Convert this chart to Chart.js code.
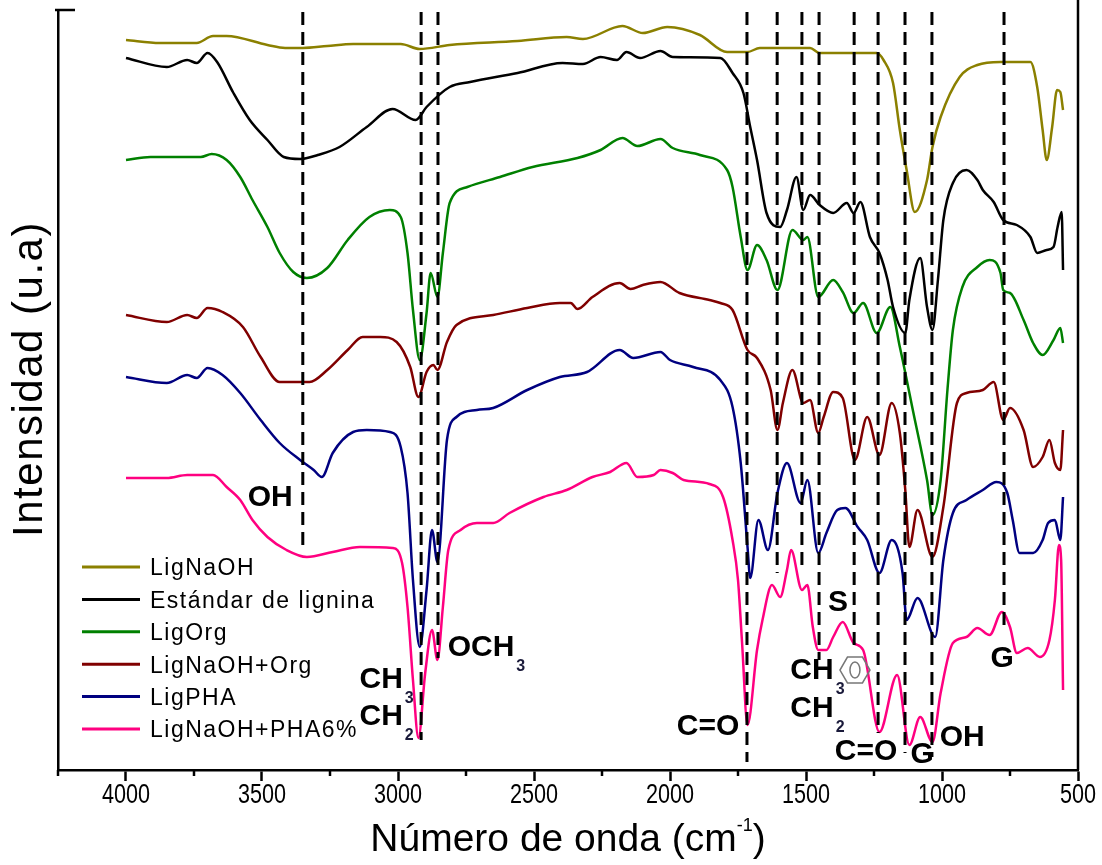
<!DOCTYPE html>
<html>
<head>
<meta charset="utf-8">
<script src="https://cdn.jsdelivr.net/npm/chart.js@4.4.1/dist/chart.umd.min.js"></script>
<style>
  html, body { margin: 0; padding: 0; background: #fff; }
  #wrap { width: 1102px; height: 865px; }
</style>
</head>
<body>
<div id="wrap"><canvas id="ftirChart" width="1102" height="865"></canvas></div>
<script>
// Spectra: wavenumber (cm-1) and intensity (u.a.)
const ligNaOHWn = [4000, 3875, 3740, 3680, 3630, 3480, 3415, 3350, 3260, 3165, 2990, 2920, 2810, 2560, 2380, 2320, 2175, 2100, 2010, 1890, 1790, 1715, 1670, 1485, 1450, 1240, 1215, 1180, 1155, 1130, 1100, 1055, 1035, 1005, 935, 870, 785, 675, 650, 630, 615, 595, 577, 565, 555];
const ligNaOHInt = [730, 727, 727, 734, 734, 725, 722, 722, 724, 726, 726, 721, 725, 729, 733, 731, 744, 737, 743, 735, 718, 718, 722, 722, 717, 717, 710, 687, 640, 600, 558, 590, 623, 653, 693, 705, 708, 708, 683, 640, 610, 643, 680, 678, 660];

const standardWn = [4000, 3850, 3775, 3740, 3700, 3665, 3605, 3545, 3480, 3420, 3360, 3295, 3215, 3115, 3020, 2935, 2895, 2810, 2735, 2560, 2395, 2320, 2255, 2195, 2160, 2110, 2035, 1990, 1815, 1770, 1730, 1705, 1680, 1645, 1595, 1570, 1535, 1510, 1485, 1450, 1400, 1350, 1325, 1300, 1265, 1230, 1200, 1180, 1135, 1120, 1080, 1055, 1035, 1015, 995, 960, 910, 870, 850, 810, 775, 725, 675, 650, 615, 590, 575, 560, 555];
const standardInt = [712, 703, 710, 707, 717, 708, 677, 650, 630, 613, 611, 615, 623, 643, 661, 650, 663, 683, 688, 697, 707, 706, 713, 710, 718, 712, 719, 713, 712, 697, 677, 643, 610, 557, 543, 560, 593, 560, 575, 565, 557, 567, 557, 568, 533, 517, 490, 463, 437, 470, 512, 463, 440, 490, 550, 587, 600, 590, 580, 568, 550, 545, 533, 517, 520, 523, 543, 558, 500];

const ligOrgWn = [4000, 3910, 3725, 3685, 3630, 3580, 3535, 3480, 3435, 3385, 3335, 3260, 3185, 3105, 3030, 2990, 2965, 2945, 2920, 2895, 2880, 2855, 2835, 2810, 2745, 2625, 2505, 2340, 2255, 2175, 2120, 2035, 1990, 1890, 1790, 1770, 1740, 1715, 1680, 1645, 1605, 1550, 1510, 1495, 1455, 1400, 1365, 1325, 1290, 1240, 1190, 1155, 1105, 1055, 1035, 1005, 980, 960, 925, 870, 825, 785, 775, 750, 700, 665, 630, 590, 565, 555];
const ligOrgInt = [610, 613, 613, 616, 610, 593, 570, 543, 517, 498, 492, 502, 530, 553, 560, 553, 517, 460, 410, 457, 497, 473, 517, 567, 583, 593, 603, 612, 620, 632, 624, 631, 622, 615, 600, 583, 533, 500, 525, 510, 480, 540, 530, 533, 473, 490, 478, 457, 467, 437, 463, 423, 357, 290, 255, 290, 380, 440, 483, 503, 510, 497, 480, 477, 450, 427, 415, 430, 442, 427];

const naOHOrgWn = [4000, 3850, 3775, 3740, 3700, 3645, 3570, 3505, 3435, 3325, 3260, 3185, 3130, 3065, 3005, 2955, 2925, 2895, 2870, 2855, 2820, 2785, 2650, 2525, 2405, 2365, 2340, 2285, 2185, 2145, 2100, 2035, 1965, 1855, 1815, 1770, 1715, 1680, 1630, 1605, 1585, 1550, 1510, 1485, 1455, 1435, 1400, 1365, 1320, 1275, 1230, 1185, 1155, 1135, 1120, 1090, 1035, 995, 945, 910, 850, 810, 775, 750, 700, 665, 630, 605, 585, 565, 555];
const naOHOrgInt = [455, 448, 455, 452, 462, 458, 443, 413, 388, 388, 400, 420, 433, 433, 428, 403, 373, 398, 405, 400, 428, 445, 455, 462, 467, 467, 461, 473, 487, 481, 485, 488, 477, 470, 467, 460, 420, 412, 380, 340, 367, 400, 367, 370, 337, 353, 378, 372, 310, 353, 315, 367, 337, 280, 223, 260, 213, 263, 367, 377, 380, 388, 350, 362, 340, 303, 313, 330, 307, 300, 340];

const ligPHAWn = [4000, 3850, 3775, 3740, 3700, 3645, 3580, 3505, 3435, 3360, 3310, 3280, 3240, 3165, 3115, 3030, 2990, 2965, 2945, 2920, 2895, 2875, 2855, 2820, 2785, 2710, 2650, 2525, 2405, 2305, 2185, 2135, 2035, 2000, 1915, 1815, 1770, 1740, 1715, 1705, 1675, 1640, 1605, 1570, 1520, 1495, 1455, 1425, 1385, 1355, 1310, 1275, 1230, 1185, 1145, 1130, 1090, 1025, 995, 960, 910, 850, 800, 760, 740, 715, 665, 630, 610, 585, 565, 555];
const ligPHAInt = [393, 387, 395, 392, 402, 395, 377, 350, 327, 310, 300, 293, 317, 338, 340, 338, 323, 277, 190, 123, 180, 240, 208, 330, 353, 360, 362, 380, 393, 398, 420, 412, 418, 410, 403, 390, 363, 307, 223, 192, 250, 220, 277, 307, 267, 290, 217, 237, 260, 262, 243, 230, 197, 230, 197, 150, 172, 133, 210, 257, 270, 280, 288, 277, 250, 217, 217, 230, 247, 250, 230, 273];

const naOHPHAWn = [4000, 3850, 3775, 3680, 3630, 3580, 3535, 3480, 3410, 3335, 3240, 3140, 3020, 2985, 2965, 2945, 2925, 2900, 2875, 2855, 2835, 2815, 2770, 2710, 2650, 2590, 2465, 2380, 2285, 2220, 2160, 2120, 2060, 2035, 1990, 1950, 1855, 1805, 1770, 1750, 1735, 1715, 1680, 1660, 1625, 1595, 1570, 1555, 1515, 1495, 1475, 1455, 1425, 1400, 1365, 1325, 1290, 1230, 1165, 1120, 1080, 1035, 1005, 960, 910, 870, 825, 780, 750, 725, 685, 640, 605, 585, 570, 562, 555];
const naOHPHAInt = [292, 292, 295, 295, 283, 270, 250, 233, 220, 213, 218, 223, 222, 207, 163, 90, 32, 97, 140, 110, 163, 220, 240, 247, 247, 257, 273, 280, 293, 298, 307, 293, 295, 300, 297, 290, 286, 273, 230, 190, 127, 45, 120, 150, 185, 173, 200, 220, 180, 185, 143, 120, 120, 133, 148, 127, 120, 38, 95, 25, 53, 28, 77, 127, 133, 142, 135, 158, 143, 117, 122, 113, 130, 170, 225, 210, 80];

const seriesLabels = ['LigNaOH', 'Estándar de lignina', 'LigOrg', 'LigNaOH+Org', 'LigPHA', 'LigNaOH+PHA6%'];
const seriesColors = ['#8b8000', '#000000', '#008000', '#800000', '#000080', '#ff0080'];

// x axis ticks
const xTickValues = [500, 1000, 1500, 2000, 2500, 3000, 3500, 4000];
const xMinorTicks = [750, 1250, 1750, 2250, 2750, 3250, 3750, 4250];

// assigned bands (dashed lines): wavenumber and where each line stops
const bandWn = [3350, 2915, 2853, 1717, 1606, 1515, 1452, 1323, 1235, 1136, 1037, 772];
const bandEnd = [222, 30, 112, 8, 197, 200, 110, 120, 37, 17, 13, 140];
const bandTop = 758;

// band labels, placed in data coordinates
const annotations = [
    { text: 'OH', sub: '', wn: 3470, y: 272 },
    { text: 'CH', sub: '3', wn: 3062, y: 90 },
    { text: 'CH', sub: '2', wn: 3062, y: 53 },
    { text: 'OCH', sub: '3', wn: 2695, y: 122 },
    { text: 'C=O', sub: '', wn: 1860, y: 43 },
    { text: 'S', sub: '', wn: 1382, y: 167 },
    { text: 'CH', sub: '3', wn: 1478, y: 99 },
    { text: 'CH', sub: '2', wn: 1478, y: 61 },
    { text: 'C=O', sub: '', wn: 1279, y: 18 },
    { text: 'G', sub: '', wn: 1073, y: 15 },
    { text: 'OH', sub: '', wn: 926, y: 32 },
    { text: 'G', sub: '', wn: 779, y: 111 }
];
const ringMark = { wn: 1320, y: 100 };

const FONT = '"Liberation Sans", Arial, sans-serif';

function toPoints(xs, ys) {
    return xs.map((v, i) => ({ x: v, y: ys[i] }));
}

const allWn = [ligNaOHWn, standardWn, ligOrgWn, naOHOrgWn, ligPHAWn, naOHPHAWn];
const allInt = [ligNaOHInt, standardInt, ligOrgInt, naOHOrgInt, ligPHAInt, naOHPHAInt];

const datasets = seriesLabels.map((label, i) => ({
    label: label,
    data: toPoints(allWn[i], allInt[i]),
    borderColor: seriesColors[i],
    backgroundColor: seriesColors[i],
    borderWidth: 2.5,
    pointRadius: 0,
    cubicInterpolationMode: 'monotone',
    fill: false
}));

// Dashed band lines, band labels, minor ticks and frame
const decorPlugin = {
    id: 'decor',
    afterDatasetsDraw(chart) {
        const { ctx, scales: { x, y } } = chart;
        ctx.save();

        // dashed lines
        ctx.strokeStyle = '#000';
        ctx.lineWidth = 3;
        ctx.setLineDash([13, 7]);
        bandWn.forEach((wn, i) => {
            const px = x.getPixelForValue(wn);
            ctx.beginPath();
            ctx.moveTo(px, y.getPixelForValue(bandTop));
            ctx.lineTo(px, y.getPixelForValue(bandEnd[i]));
            ctx.stroke();
        });
        ctx.setLineDash([]);

        // labels
        ctx.fillStyle = '#000';
        ctx.textBaseline = 'middle';
        annotations.forEach(a => {
            const px = x.getPixelForValue(a.wn);
            const py = y.getPixelForValue(a.y);
            ctx.font = 'bold 30px ' + FONT;
            ctx.textAlign = 'center';
            ctx.fillText(a.text, px, py);
            if (a.sub) {
                const w = ctx.measureText(a.text).width;
                ctx.font = 'bold 16px ' + FONT;
                ctx.textAlign = 'left';
                ctx.fillStyle = '#1a1a3a';
                ctx.fillText(a.sub, px + w / 2 + 2, py + 19);
                ctx.fillStyle = '#000';
            }
        });

        // aromatic ring symbol
        const rx = x.getPixelForValue(ringMark.wn);
        const ry = y.getPixelForValue(ringMark.y);
        ctx.strokeStyle = '#777';
        ctx.lineWidth = 1.5;
        ctx.beginPath();
        for (let k = 0; k < 6; k++) {
            const ang = Math.PI / 3 * k;
            const hx = rx + 15 * Math.cos(ang);
            const hy = ry + 15 * Math.sin(ang);
            if (k === 0) ctx.moveTo(hx, hy); else ctx.lineTo(hx, hy);
        }
        ctx.closePath();
        ctx.stroke();
        ctx.beginPath();
        ctx.ellipse(rx, ry, 5, 8, 0, 0, Math.PI * 2);
        ctx.stroke();

        ctx.restore();
    },
    afterDraw(chart) {
        const { ctx, chartArea, scales: { x } } = chart;
        ctx.save();
        ctx.strokeStyle = '#000';
        ctx.lineWidth = 2.5;

        // minor ticks
        xMinorTicks.forEach(v => {
            const px = x.getPixelForValue(v);
            ctx.beginPath();
            ctx.moveTo(px, chartArea.bottom);
            ctx.lineTo(px, chartArea.bottom + 6);
            ctx.stroke();
        });

        // tick labels, condensed like the original
        ctx.fillStyle = '#000';
        ctx.textBaseline = 'middle';
        ctx.textAlign = 'center';
        ctx.font = '27px ' + FONT;
        xTickValues.forEach(v => {
            const px = x.getPixelForValue(v);
            ctx.save();
            ctx.translate(px, chartArea.bottom + 26);
            ctx.scale(0.8, 1);
            ctx.fillText(String(v), 0, 0);
            ctx.restore();
        });

        // right frame line and top tick of the y axis
        ctx.beginPath();
        ctx.moveTo(chartArea.right, 0);
        ctx.lineTo(chartArea.right, chartArea.bottom);
        ctx.stroke();
        ctx.beginPath();
        ctx.moveTo(chartArea.left - 3, chartArea.top);
        ctx.lineTo(chartArea.left + 17, chartArea.top);
        ctx.stroke();

        // axis titles
        ctx.font = '39px ' + FONT;
        const main = 'Número de onda (cm';
        const wMain = ctx.measureText(main).width;
        ctx.font = '18px ' + FONT;
        const wSup = ctx.measureText('-1').width;
        ctx.font = '39px ' + FONT;
        const wEnd = ctx.measureText(')').width;
        let tx = (chartArea.left + chartArea.right) / 2 - (wMain + wSup + wEnd) / 2;
        const ty = 840;
        ctx.textAlign = 'left';
        ctx.fillText(main, tx, ty);
        tx += wMain;
        ctx.font = '18px ' + FONT;
        ctx.fillText('-1', tx, ty - 14);
        tx += wSup;
        ctx.font = '39px ' + FONT;
        ctx.fillText(')', tx, ty);

        ctx.save();
        ctx.translate(30, 379);
        ctx.rotate(-Math.PI / 2);
        ctx.font = '42px ' + FONT;
        ctx.letterSpacing = '1.5px';
        ctx.textAlign = 'center';
        ctx.fillText('Intensidad (u.a)', 0, 0);
        ctx.restore();

        // legend
        ctx.font = '23px ' + FONT;
        ctx.letterSpacing = '1.5px';
        ctx.textAlign = 'left';
        chart.data.datasets.forEach((ds, i) => {
            const ly = chartArea.top + 557 + i * 32.4;
            ctx.strokeStyle = ds.borderColor;
            ctx.lineWidth = 3;
            ctx.beginPath();
            ctx.moveTo(chartArea.left + 24, ly);
            ctx.lineTo(chartArea.left + 82, ly);
            ctx.stroke();
            ctx.fillStyle = '#000';
            ctx.fillText(ds.label, chartArea.left + 92, ly + 2);
        });
        ctx.restore();
    }
};

const ctx = document.getElementById('ftirChart').getContext('2d');
const ftirChart = new Chart(ctx, {
    type: 'line',
    data: { datasets: datasets },
    options: {
        responsive: false,
        animation: false,
        layout: { padding: { left: 0, right: 24, top: 10, bottom: 0 } },
        plugins: {
            legend: { display: false },
            tooltip: { enabled: false }
        },
        scales: {
            x: {
                type: 'linear',
                reverse: true,
                min: 500,
                max: 4250,
                afterBuildTicks: s => { s.ticks = xTickValues.map(v => ({ value: v })); },
                afterFit: s => { s.height = 95; },
                ticks: { display: false },
                grid: {
                    drawOnChartArea: false,
                    tickLength: 11,
                    tickWidth: 2.5,
                    tickColor: '#000'
                },
                border: { color: '#000', width: 2.5 }
            },
            y: {
                min: 0,
                max: 760,
                afterFit: s => { s.width = 58; },
                ticks: { display: false },
                grid: { display: false, drawTicks: false },
                border: { color: '#000', width: 2.5 }
            }
        }
    },
    plugins: [decorPlugin]
});
</script>
</body>
</html>
